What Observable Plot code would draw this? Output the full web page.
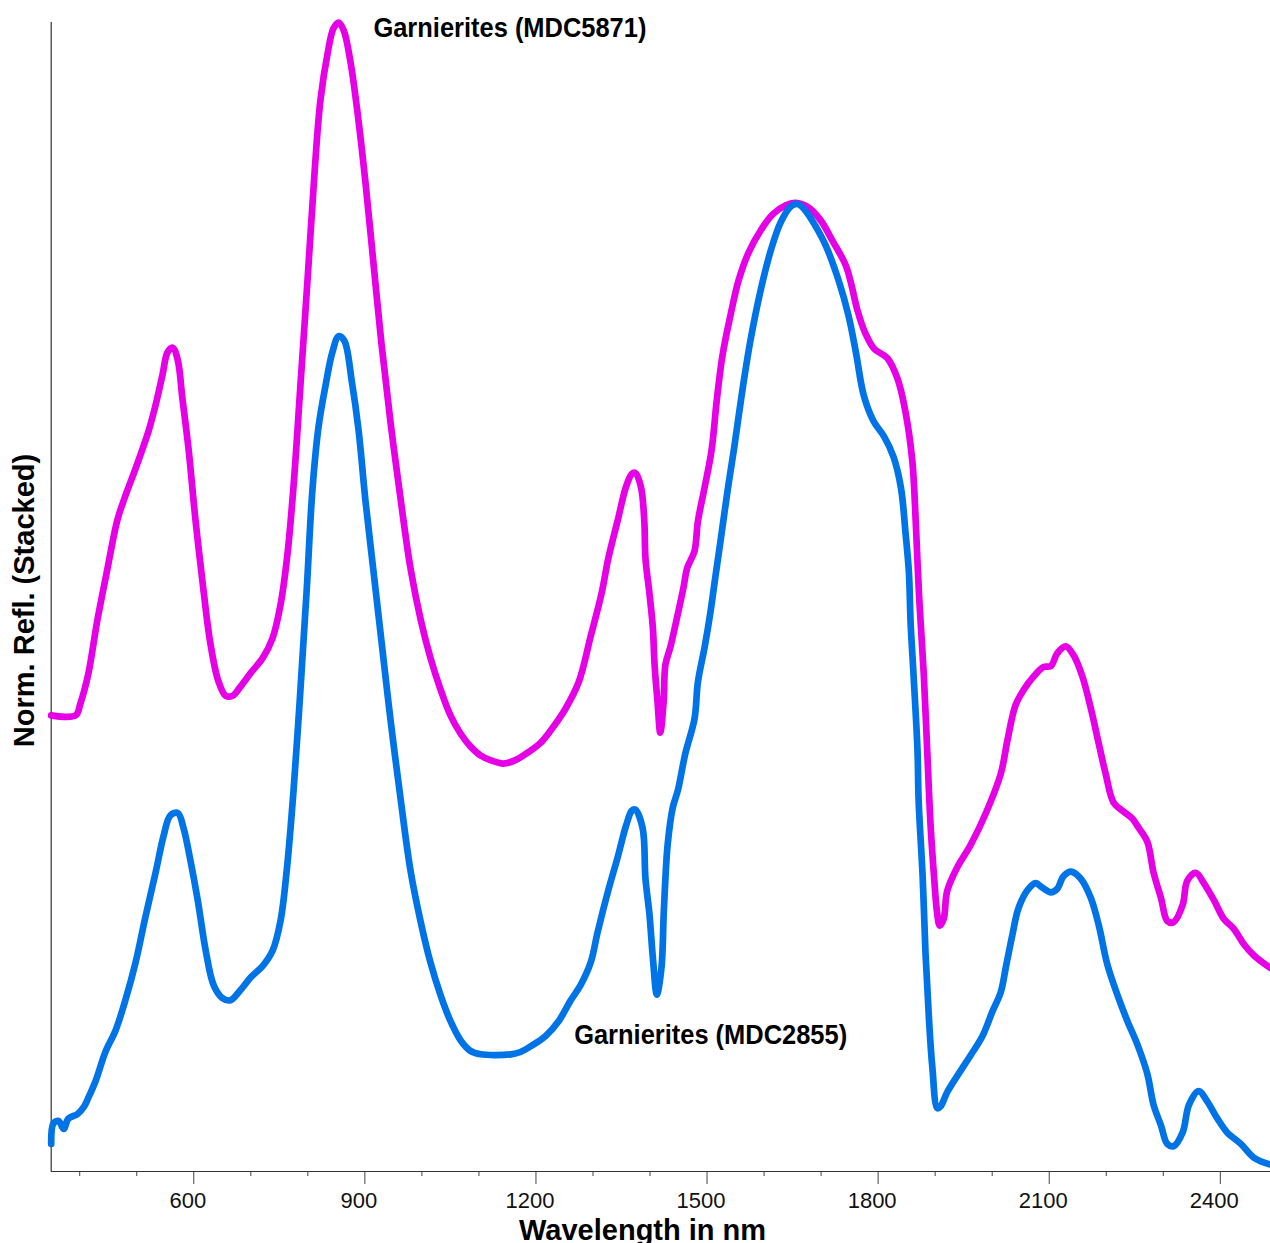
<!DOCTYPE html>
<html>
<head>
<meta charset="utf-8">
<script src="https://cdn.jsdelivr.net/npm/d3@7"></script>
<script src="https://cdn.jsdelivr.net/npm/@observablehq/plot@0.6"></script>
<style>
  html, body { margin: 0; padding: 0; background: #fff; }
  #chart svg { display: block; }
</style>
</head>
<body>
<div id="chart"></div>
<script>
// Stacked, normalised reflectance spectra of two garnierite samples.

const sampleNames = ["Garnierites (MDC5871)", "Garnierites (MDC2855)"];

// MDC5871 (upper spectrum)
const wavelengthMDC5871 = [
  350, 393, 401, 415, 431, 448, 466, 480, 498, 521,
  533, 545, 554, 563, 572, 580, 591, 603, 617, 629,
  643, 656, 668, 682, 700, 721, 738, 752, 764, 775,
  787, 800, 812, 822, 835, 845, 854, 863, 875, 887,
  901, 915, 929, 945, 963, 980, 998, 1015, 1033, 1050,
  1068, 1085, 1103, 1120, 1143, 1164, 1187, 1208, 1229, 1252,
  1275, 1296, 1315, 1327, 1343, 1358, 1368, 1374, 1384, 1390,
  1392, 1399, 1405, 1408, 1413, 1418, 1424, 1427, 1436, 1446,
  1459, 1465, 1478, 1484, 1496, 1508, 1517, 1527, 1541, 1555,
  1573, 1594, 1615, 1638, 1655, 1678, 1699, 1720, 1743, 1752,
  1764, 1778, 1793, 1816, 1834, 1848, 1860, 1866, 1872, 1880,
  1886, 1892, 1898, 1903, 1908, 1915, 1921, 1939, 1962, 1989,
  2015, 2027, 2041, 2055, 2073, 2090, 2103, 2114, 2129, 2143,
  2158, 2173, 2187, 2199, 2213, 2231, 2246, 2257, 2272, 2283,
  2296, 2307, 2318, 2334, 2342, 2357, 2371, 2389, 2406, 2424,
  2441, 2459, 2488
];
const reflMDC5871 = [
  0.397, 0.397, 0.407, 0.433, 0.480, 0.523, 0.567, 0.588, 0.612, 0.645,
  0.667, 0.693, 0.713, 0.717, 0.706, 0.673, 0.628, 0.567, 0.506, 0.460,
  0.427, 0.414, 0.414, 0.422, 0.434, 0.447, 0.464, 0.493, 0.536, 0.597,
  0.684, 0.780, 0.871, 0.932, 0.974, 0.995, 1.000, 0.993, 0.965, 0.922,
  0.861, 0.791, 0.721, 0.652, 0.584, 0.525, 0.480, 0.447, 0.419, 0.397,
  0.381, 0.370, 0.362, 0.358, 0.355, 0.358, 0.365, 0.373, 0.386, 0.403,
  0.426, 0.466, 0.503, 0.534, 0.566, 0.596, 0.607, 0.608, 0.596, 0.566,
  0.534, 0.503, 0.473, 0.441, 0.410, 0.382, 0.410, 0.441, 0.457, 0.479,
  0.509, 0.525, 0.540, 0.566, 0.596, 0.628, 0.671, 0.710, 0.745, 0.775,
  0.800, 0.819, 0.833, 0.841, 0.843, 0.839, 0.828, 0.810, 0.789, 0.774,
  0.749, 0.729, 0.716, 0.708, 0.690, 0.661, 0.618, 0.565, 0.499, 0.433,
  0.367, 0.301, 0.257, 0.227, 0.214, 0.220, 0.244, 0.265, 0.284, 0.312,
  0.346, 0.376, 0.406, 0.419, 0.431, 0.439, 0.440, 0.451, 0.457, 0.449,
  0.431, 0.403, 0.372, 0.346, 0.321, 0.313, 0.307, 0.299, 0.287, 0.260,
  0.238, 0.218, 0.217, 0.232, 0.253, 0.260, 0.251, 0.236, 0.220, 0.211,
  0.198, 0.188, 0.177
];

// MDC2855 (lower spectrum)
const wavelengthMDC2855 = [
  350, 354, 363, 372, 380, 396, 407, 415, 428, 445,
  463, 480, 498, 515, 533, 547, 559, 572, 582, 594,
  607, 621, 635, 650, 664, 682, 700, 721, 738, 752,
  763, 775, 787, 798, 808, 819, 831, 843, 854, 864,
  877, 889, 901, 915, 929, 945, 963, 980, 998, 1015,
  1033, 1050, 1068, 1085, 1103, 1156, 1173, 1194, 1217, 1240,
  1261, 1278, 1296, 1308, 1327, 1343, 1358, 1368, 1374, 1387,
  1392, 1399, 1405, 1412, 1420, 1424, 1427, 1431, 1440, 1449,
  1462, 1478, 1484, 1496, 1506, 1515, 1524, 1537, 1547, 1562,
  1576, 1594, 1612, 1629, 1647, 1659, 1673, 1690, 1708, 1731,
  1748, 1761, 1775, 1792, 1810, 1827, 1840, 1848, 1854, 1857,
  1862, 1869, 1871, 1878, 1883, 1889, 1895, 1904, 1910, 1921,
  1945, 1962, 1983, 2001, 2015, 2024, 2035, 2046, 2062, 2076,
  2088, 2103, 2114, 2125, 2138, 2155, 2173, 2187, 2202, 2220,
  2237, 2255, 2272, 2283, 2296, 2307, 2318, 2334, 2345, 2362,
  2377, 2395, 2412, 2436, 2459, 2488
];
const reflMDC2855 = [
  0.024, 0.042, 0.044, 0.037, 0.046, 0.050, 0.056, 0.064, 0.079, 0.104,
  0.123, 0.149, 0.182, 0.221, 0.260, 0.292, 0.310, 0.312, 0.299, 0.271,
  0.236, 0.192, 0.162, 0.151, 0.149, 0.158, 0.169, 0.179, 0.192, 0.218,
  0.262, 0.332, 0.419, 0.506, 0.593, 0.649, 0.684, 0.713, 0.727, 0.723,
  0.688, 0.645, 0.584, 0.523, 0.462, 0.393, 0.323, 0.262, 0.217, 0.182,
  0.153, 0.131, 0.114, 0.105, 0.102, 0.102, 0.104, 0.110, 0.118, 0.131,
  0.149, 0.162, 0.182, 0.208, 0.245, 0.273, 0.301, 0.314, 0.315, 0.299,
  0.255, 0.224, 0.186, 0.154, 0.177, 0.224, 0.255, 0.285, 0.317, 0.332,
  0.364, 0.394, 0.426, 0.457, 0.487, 0.519, 0.550, 0.596, 0.628, 0.680,
  0.723, 0.767, 0.802, 0.826, 0.840, 0.842, 0.836, 0.823, 0.806, 0.775,
  0.745, 0.713, 0.675, 0.653, 0.640, 0.622, 0.595, 0.556, 0.521, 0.477,
  0.433, 0.367, 0.323, 0.257, 0.191, 0.134, 0.091, 0.055, 0.057, 0.069,
  0.088, 0.101, 0.118, 0.140, 0.156, 0.178, 0.205, 0.229, 0.245, 0.251,
  0.247, 0.243, 0.246, 0.257, 0.261, 0.255, 0.238, 0.214, 0.180, 0.153,
  0.131, 0.110, 0.085, 0.058, 0.040, 0.024, 0.022, 0.034, 0.058, 0.070,
  0.061, 0.046, 0.034, 0.024, 0.012, 0.006
];

// Axis ticks (nm)
const majorTicks = [600, 900, 1200, 1500, 1800, 2100, 2400];
const minorTicks = [400, 500, 700, 800, 1000, 1100, 1300, 1400, 1600, 1700, 1900, 2000, 2200, 2300];

const xTitle = "Wavelength in nm";
const yTitle = "Norm. Refl. (Stacked)";

const toRows = (nm, refl) => nm.map((w, i) => ({nm: w, refl: refl[i]}));
const spectrum5871 = toRows(wavelengthMDC5871, reflMDC5871);
const spectrum2855 = toRows(wavelengthMDC2855, reflMDC2855);

const FONT = "'Liberation Sans', Arial, Helvetica, sans-serif";
const MAGENTA = "#e600e6";
const BLUE = "#0073e6";

const chart = Plot.plot({
  width: 1270,
  height: 1243,
  marginLeft: 50.7,
  marginRight: 0,
  marginTop: 22,
  marginBottom: 72,
  style: {fontFamily: FONT, background: "#fff", overflow: "visible"},
  x: {domain: [350, 2488]},
  y: {domain: [0, 1], axis: null},
  marks: [
    // tick marks
    Plot.axisX(minorTicks, {tickSize: 5, tickFormat: () => "", stroke: "#444", label: null}),
    Plot.axisX(majorTicks, {tickSize: 13, tickFormat: () => "", stroke: "#444", label: null}),
    // tick labels
    Plot.axisX(majorTicks, {
      tickSize: 0, tickPadding: 21, dx: -6, fontSize: 22, fill: "#111",
      tickFormat: d => String(d), label: null
    }),
    // axis lines
    Plot.ruleY([0], {stroke: "#333", strokeWidth: 1.2}),
    Plot.ruleX([350], {stroke: "#333", strokeWidth: 1.2}),
    // spectra
    Plot.line(spectrum5871, {
      x: "nm", y: "refl", stroke: MAGENTA, strokeWidth: 6.7, curve: "catmull-rom"
    }),
    Plot.line(spectrum2855, {
      x: "nm", y: "refl", stroke: BLUE, strokeWidth: 6.7, curve: "catmull-rom"
    }),
    // sample labels
    Plot.text([sampleNames[0]], {
      x: 915, y: 0.987, textAnchor: "start", lineAnchor: "bottom",
      fontSize: 28, fontWeight: "bold", fill: "#000"
    }),
    Plot.text([sampleNames[1]], {
      x: 1267, y: 0.111, textAnchor: "start", lineAnchor: "bottom",
      fontSize: 28, fontWeight: "bold", fill: "#000"
    }),
    // axis titles
    Plot.text([xTitle], {
      x: 1387, frameAnchor: "bottom", dy: 68, lineAnchor: "bottom",
      fontSize: 29, fontWeight: "bold", fill: "#000"
    }),
    Plot.text([yTitle], {
      frameAnchor: "left", rotate: -90, dx: -17.7, dy: 3.5,
      textAnchor: "middle", lineAnchor: "bottom",
      fontSize: 29, fontWeight: "bold", fill: "#000"
    })
  ]
});

// the sample labels are set in a slightly condensed bold face
d3.select(chart).selectAll("text")
  .filter(function () { return sampleNames.includes(this.textContent); })
  .attr("textLength", 273)
  .attr("lengthAdjust", "spacingAndGlyphs");

document.getElementById("chart").appendChild(chart);
</script>
</body>
</html>
